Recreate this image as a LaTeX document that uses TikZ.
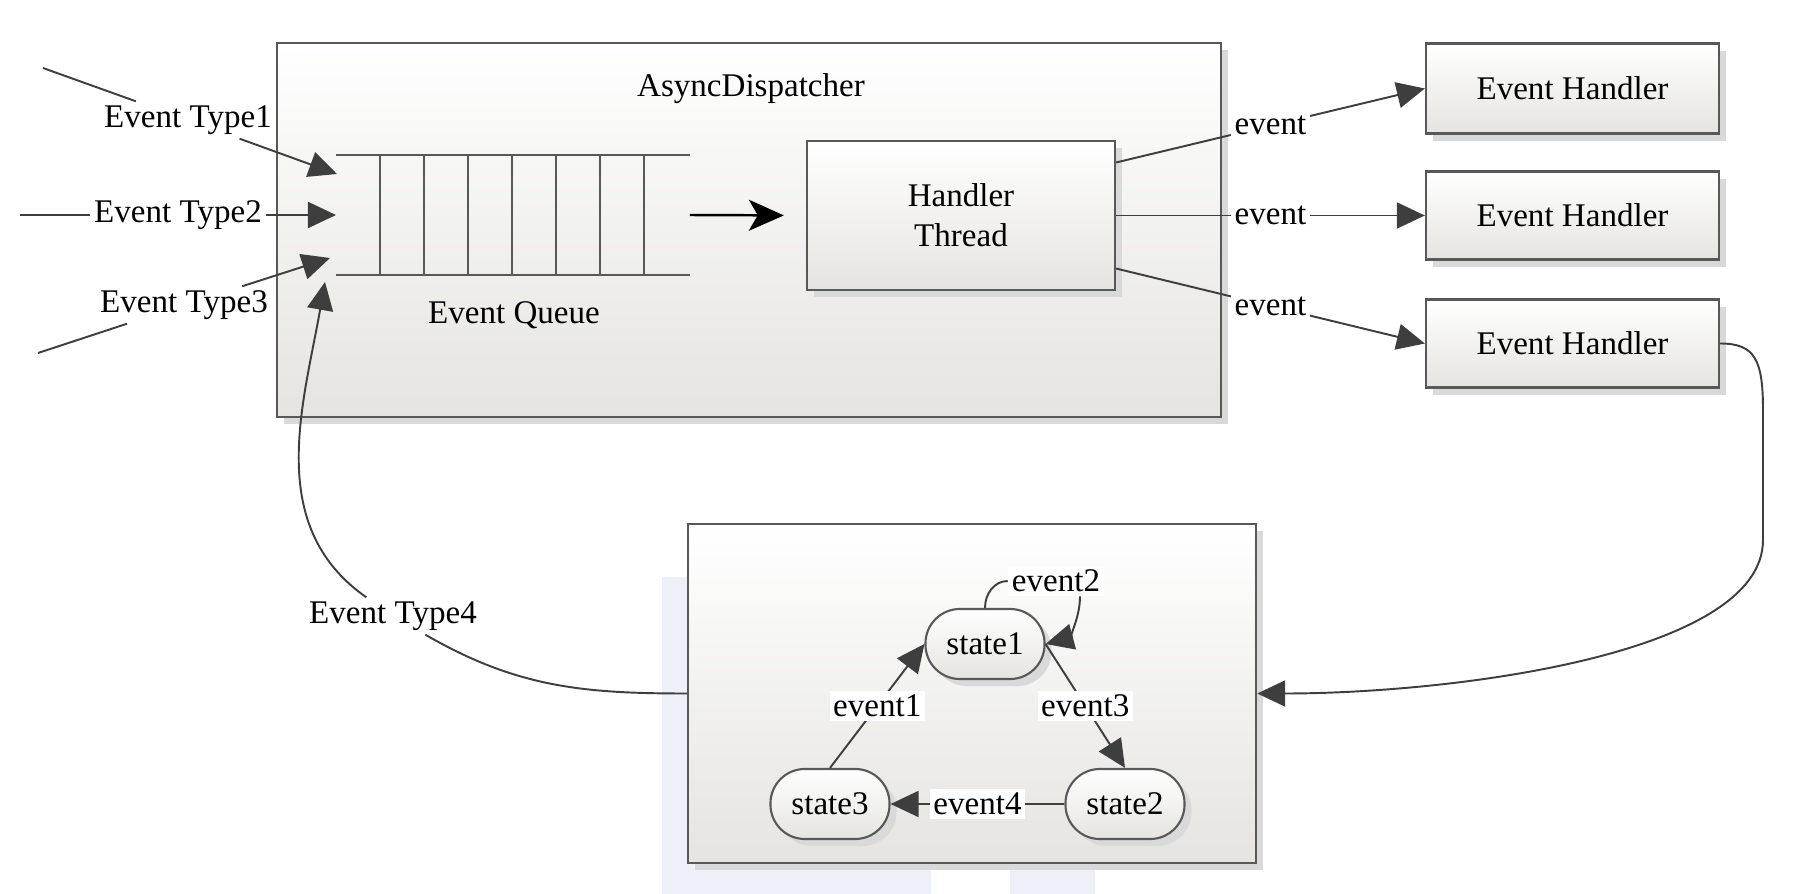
\documentclass[tikz,border=0pt]{standalone}
\usepackage{fontspec}
\setmainfont{Liberation Serif}
\usetikzlibrary{arrows.meta,shadows}

\definecolor{linec}{RGB}{62,62,62}
\definecolor{framec}{RGB}{88,88,88}
\definecolor{shadec}{RGB}{229,228,224}
\definecolor{ghost}{RGB}{238,240,248}

\begin{document}
\begin{tikzpicture}[x=0.01cm, y=0.01cm,
    font=\fontsize{9.4}{11.3}\selectfont,
    panel/.style={draw=framec, line width=0.6pt, top color=white, bottom color=shadec,
        drop shadow={shadow xshift=2pt, shadow yshift=-2pt, fill=black!15, opacity=1}},
    statebox/.style={panel, rounded corners=9.8pt, minimum width=1.19cm, minimum height=0.70cm},
    lbl/.style={fill=white, inner sep=1pt},
    wire/.style={draw=linec, line width=0.55pt},
    flow/.style={wire, -{Triangle[length=0.28cm, width=0.26cm]}},
    bigarrow/.style={draw=black, line width=0.7pt, -{Stealth[length=0.35cm, width=0.31cm, inset=0.09cm]}}]
    \useasboundingbox (0,0) rectangle (1814,-894);

    % podklad
    \fill[ghost] (662,-577) rectangle (931,-894);
    \fill[ghost] (1010,-868) rectangle (1095,-894);

    % dispatcher
    \node[panel, minimum width=9.44cm, minimum height=3.74cm] (ad) at (749,-230) {};
    \node (adtitle) at (751,-89) {AsyncDispatcher};

    % fronta
    \node[minimum width=3.52cm, minimum height=1.18cm, inner sep=0pt] (queue) at (513,-215) {};
    \draw[wire, draw=framec] (queue.north west) -- (queue.north east)
        (queue.south west) -- (queue.south east);
    \foreach \x in {380,424,...,644}
        \draw[wire, draw=framec] (\x,-156) -- (\x,-274);
    \node (qlabel) at (514,-315) {Event Queue};

    \node[panel, minimum width=3.08cm, minimum height=1.49cm, align=center] (ht) at (961,-215.5) {Handler\\Thread};
    \draw[bigarrow] (queue.east) -- (ht.west) [shorten >=0.22cm];

    % handlery
    \node[panel, minimum width=2.93cm, minimum height=0.90cm] (eh1) at (1572.5,-88.5) {Event Handler};
    \node[panel, minimum width=2.93cm, minimum height=0.88cm] (eh2) at (1572.5,-215.5) {Event Handler};
    \node[panel, minimum width=2.93cm, minimum height=0.88cm] (eh3) at (1572.5,-343.5) {Event Handler};

    \draw[flow] ([yshift=0.53cm]ht.east) -- node[lbl] (ev1) {event} (eh1.west);
    \draw[flow] (ht.east) -- node[lbl] (ev2) {event} (eh2.west);
    \draw[flow] ([yshift=-0.53cm]ht.east) -- node[lbl] (ev3) {event} (eh3.west);

    % vstupy
    \coordinate (in1) at (43,-68);
    \coordinate (in2) at (20,-215);
    \coordinate (in3) at (38,-353);
    \coordinate (q1) at (337,-174);
    \coordinate (q2) at (336,-215);
    \coordinate (q3) at (330,-258);
    \coordinate (q4) at (325,-282);
    \node[lbl] (t1) at (188,-120) {Event Type1};
    \node[lbl] (t2) at (178,-215) {Event Type2};
    \node[lbl] (t3) at (184,-305) {Event Type3};
    \draw[wire] (in1) -- (t1);
    \draw[flow] (t1) -- (q1);
    \draw[wire] (in2) -- (t2);
    \draw[flow] (t2) -- (q2);
    \draw[wire] (in3) -- (t3);
    \draw[flow] (t3) -- (q3);

    % stavovy automat
    \node[panel, minimum width=5.68cm, minimum height=3.39cm] (sm) at (972,-693.5) {};
    \node[statebox] (s1) at (985,-644) {state1};
    \node[statebox] (s2) at (1125,-804) {state2};
    \node[statebox] (s3) at (830,-804) {state3};

    \draw[flow] (s3.north) -- node[lbl] (e1) {event1} (s1.west);
    \draw[flow] (s1.east) -- node[lbl] (e3) {event3} (s2.north);
    \draw[flow] (s2.west) -- node[lbl] (e4) {event4} (s3.east);
    \node[lbl] (e2) at (1056,-581) {event2};
    \draw[wire] (s1.north) to[out=90, in=180] (e2.west);
    \draw[flow] ([xshift=0.24cm]e2.south) to[out=-90, in=15] (s1.east);

    % zpetna vazba
    \draw[flow] (eh3.east) .. controls (1755,-343.5) and (1763,-360) .. (1763,-410)
        -- (1763,-540) .. controls (1763,-655) and (1450,-693.5) .. (sm.east);
    \node[lbl] (t4) at (393,-616) {Event Type4};
    \draw[wire] (sm.west) to[out=180, in=-30] (t4);
    \draw[flow] (t4) to[out=145, in=-100] (q4);
\end{tikzpicture}
\end{document}
